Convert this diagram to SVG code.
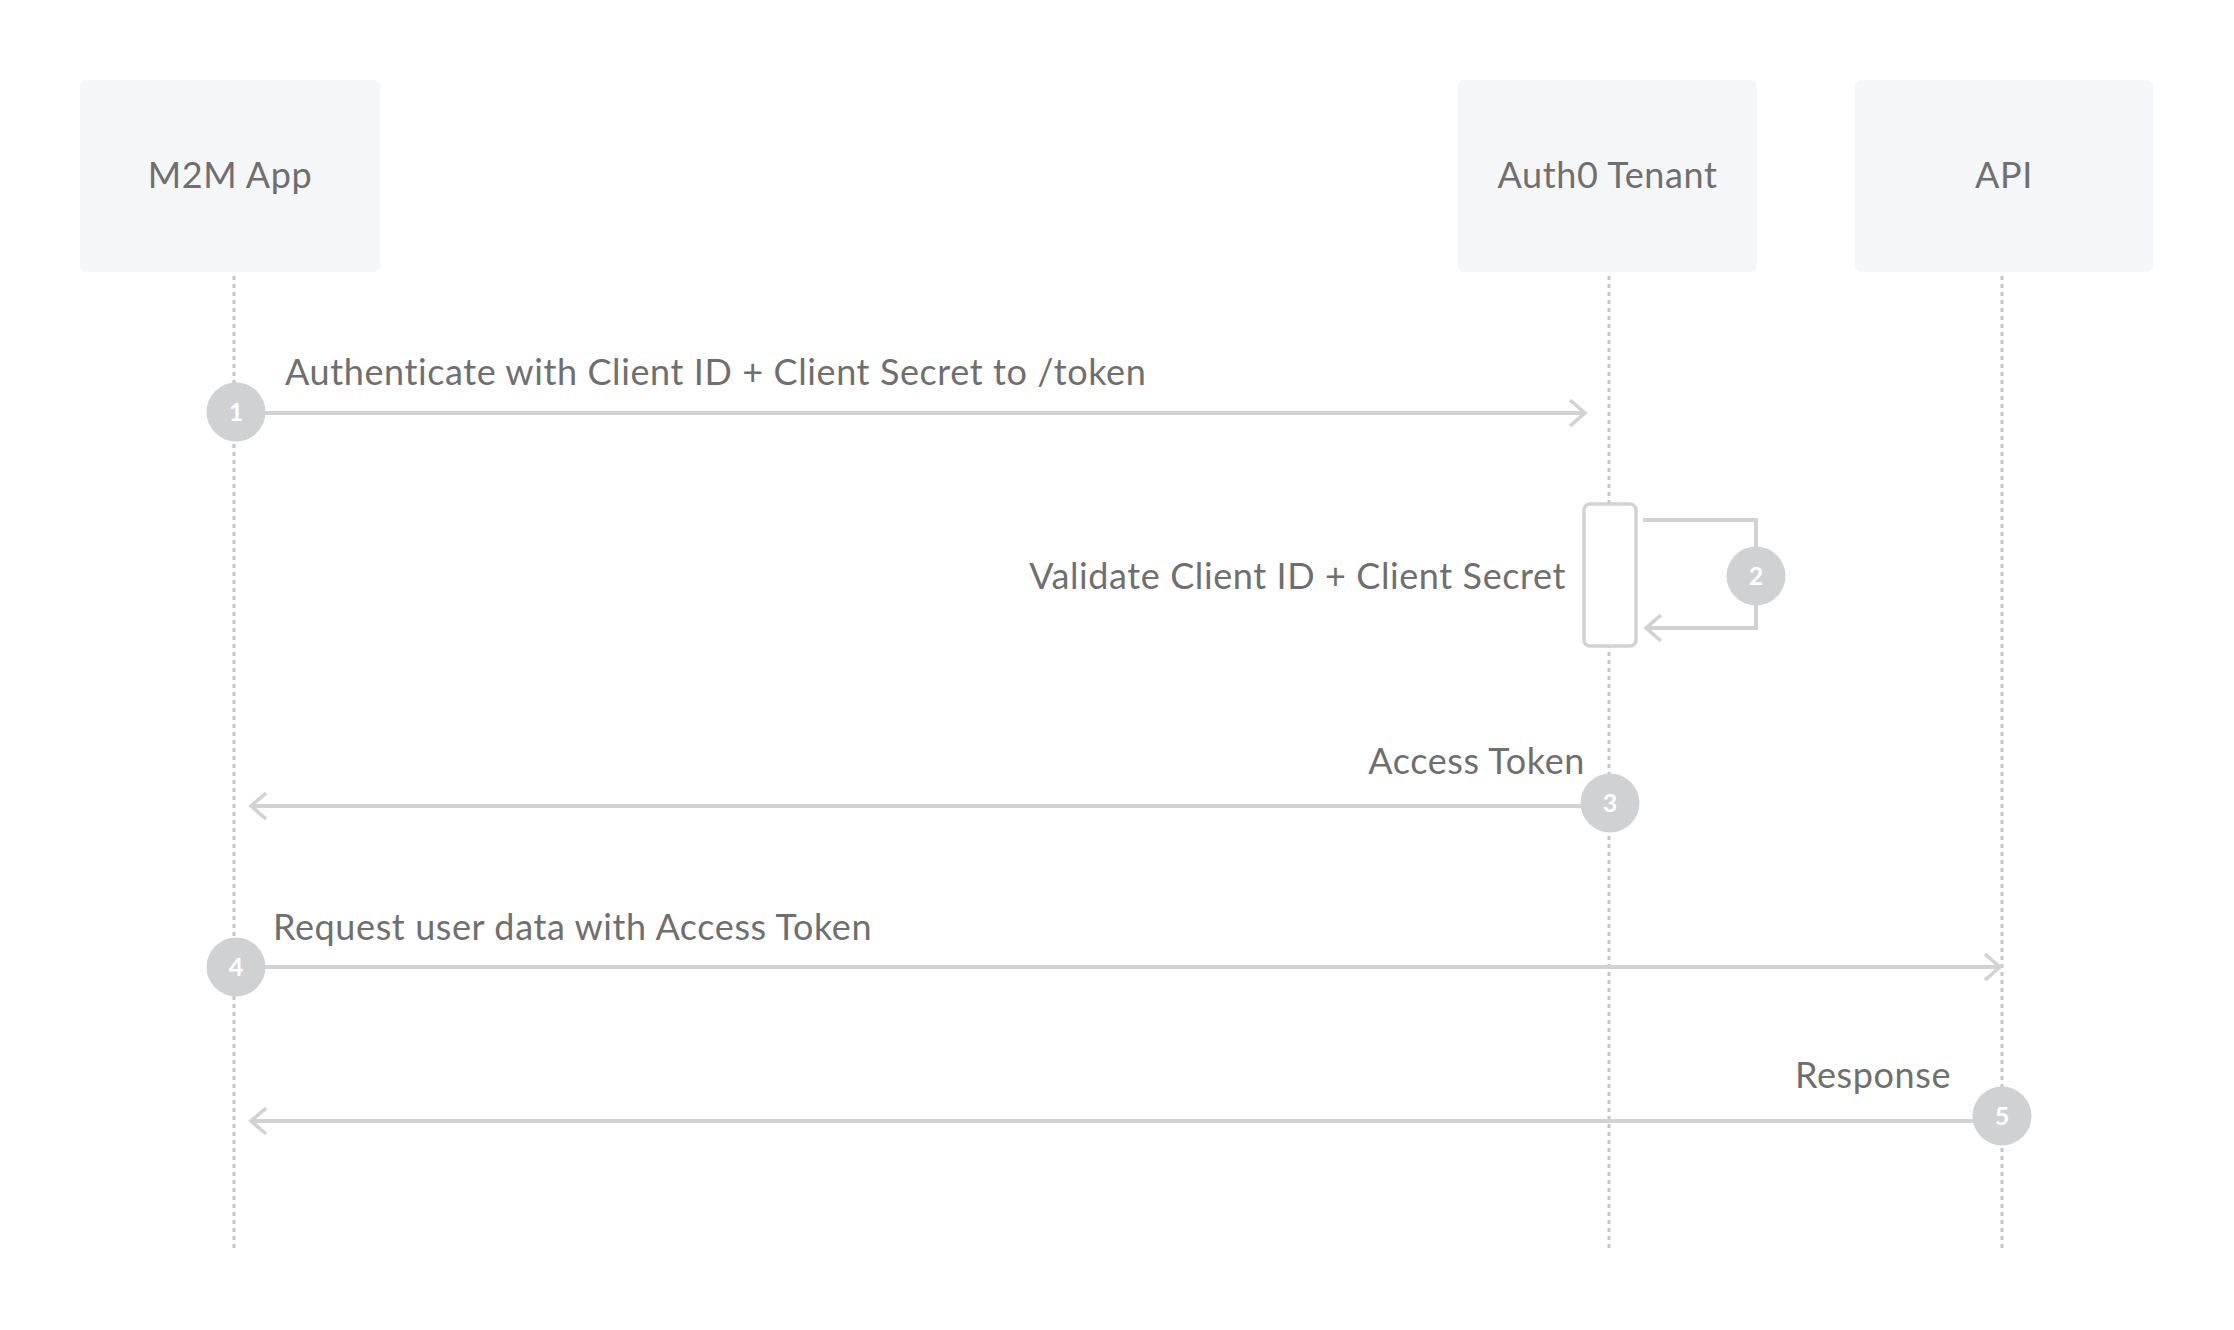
<svg xmlns="http://www.w3.org/2000/svg" width="2234" height="1330" viewBox="0 0 2234 1330">
<style>
.box{fill:#f5f6f8;}
.lbl{font-family:Lato,"Noto Sans","Liberation Sans",sans-serif;font-size:36px;letter-spacing:0.6px;fill:#6f6f6f;}
.life{stroke:#c6c6c6;stroke-width:3;stroke-dasharray:4 4;fill:none;}
.msg{stroke:#d2d2d2;stroke-width:4;fill:none;}
.badge{fill:#d0d1d3;}
.num{font-family:Lato,"Noto Sans","Liberation Sans",sans-serif;font-size:25px;font-weight:bold;fill:#ffffff;text-anchor:middle;}
</style>
<defs>
<marker id="arr" markerUnits="userSpaceOnUse" markerWidth="30" markerHeight="34" refX="16" refY="15" orient="auto" viewBox="0 0 30 34">
<path d="M1 2 L16 15 L1 28" fill="none" stroke="#d2d2d2" stroke-width="3.5"/>
</marker>
</defs>
<rect width="2234" height="1330" fill="#ffffff"/>
<g id="lifelines">
<line class="life" x1="234" y1="276" x2="234" y2="1250"/>
<line class="life" x1="1609" y1="276" x2="1609" y2="1250"/>
<line class="life" x1="2002" y1="276" x2="2002" y2="1250"/>
</g>
<g id="node-m2m">
<rect class="box" x="80" y="80" width="300" height="192" rx="6"/>
<text class="lbl" x="230" y="188" text-anchor="middle">M2M App</text>
</g>
<g id="node-auth0">
<rect class="box" x="1458" y="80" width="299" height="192" rx="6"/>
<text class="lbl" x="1607.5" y="188" text-anchor="middle">Auth0 Tenant</text>
</g>
<g id="node-api">
<rect class="box" x="1855" y="80" width="298" height="192" rx="6"/>
<text class="lbl" x="2004" y="188" text-anchor="middle">API</text>
</g>
<g id="activation">
<rect x="1584" y="504" width="52" height="142" rx="6" fill="#ffffff" stroke="#d2d2d2" stroke-width="3.5"/>
</g>
<g id="connectors">
<line class="msg" x1="262" y1="413" x2="1585" y2="413" marker-end="url(#arr)"/>
<path class="msg" d="M1643 520 H1756 V628 H1646" marker-end="url(#arr)"/>
<line class="msg" x1="1590" y1="806" x2="251" y2="806" marker-end="url(#arr)"/>
<line class="msg" x1="262" y1="967" x2="2000" y2="967" marker-end="url(#arr)"/>
<line class="msg" x1="1980" y1="1121" x2="251" y2="1121" marker-end="url(#arr)"/>
</g>
<g id="labels">
<text class="lbl" x="285" y="385">Authenticate with Client ID + Client Secret to /token</text>
<text class="lbl" x="1566" y="589" text-anchor="end">Validate Client ID + Client Secret</text>
<text class="lbl" x="1585" y="774" text-anchor="end">Access Token</text>
<text class="lbl" x="273" y="940">Request user data with Access Token</text>
<text class="lbl" x="1951" y="1088" text-anchor="end">Response</text>
</g>
<g id="badge-1"><circle class="badge" cx="236" cy="412" r="29.5"/><text class="num" x="236" y="421">1</text></g>
<g id="badge-2"><circle class="badge" cx="1756" cy="576" r="29.5"/><text class="num" x="1756" y="585">2</text></g>
<g id="badge-3"><circle class="badge" cx="1610" cy="803" r="29.5"/><text class="num" x="1610" y="812">3</text></g>
<g id="badge-4"><circle class="badge" cx="236" cy="967" r="29.5"/><text class="num" x="236" y="976">4</text></g>
<g id="badge-5"><circle class="badge" cx="2002" cy="1116" r="29.5"/><text class="num" x="2002" y="1125">5</text></g>
</svg>
